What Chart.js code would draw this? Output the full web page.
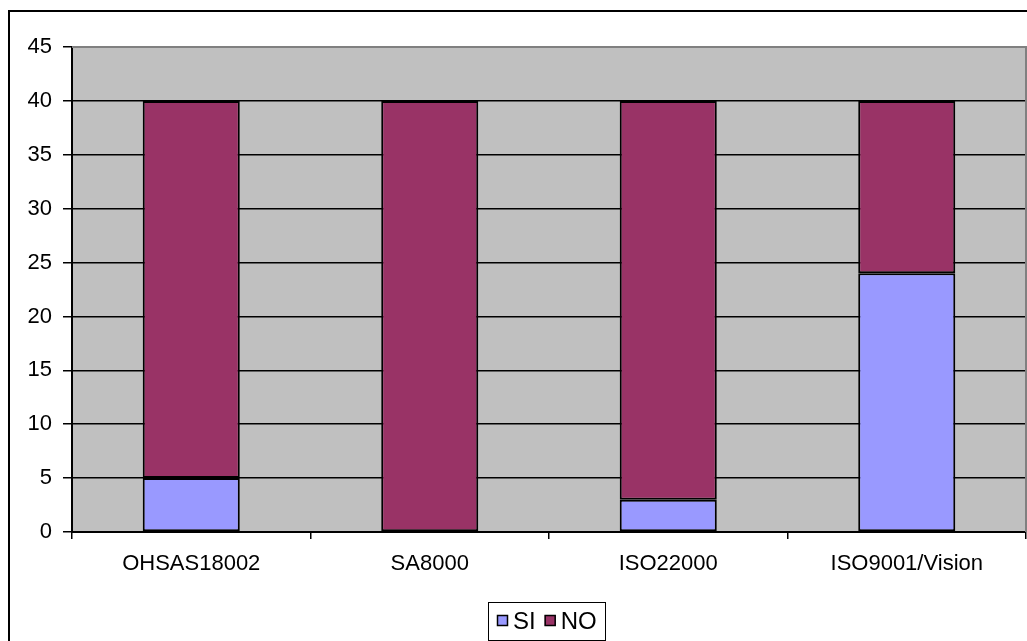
<!DOCTYPE html>
<html>
<head>
<meta charset="utf-8">
<script src="https://cdn.jsdelivr.net/npm/chart.js@4/dist/chart.umd.min.js"></script>
<style>
  html, body { margin: 0; padding: 0; background: #ffffff; }
  #wrap { width: 1027px; height: 641px; position: relative; overflow: hidden; }
  canvas { display: block; }
</style>
</head>
<body>
<div id="wrap"><canvas id="c" width="1027" height="641"></canvas></div>
<script>
// Certification categories and counts per answer
const categories = ['OHSAS18002', 'SA8000', 'ISO22000', 'ISO9001/Vision'];
const siValues = [5, 0, 3, 24];
const noValues = [35, 40, 37, 16];
const yTicks = [0, 5, 10, 15, 20, 25, 30, 35, 40, 45];

const FONT = "'Liberation Sans', Arial, sans-serif";

// Gray plot background, plot frame, outer frame and a boxed legend
const framePlugin = {
  id: 'frame',
  beforeDraw(chart) {
    const { ctx, chartArea: a } = chart;
    ctx.save();
    ctx.fillStyle = '#ffffff';
    ctx.fillRect(0, 0, chart.width, chart.height);
    ctx.fillStyle = '#c0c0c0';
    ctx.fillRect(a.left, a.top, a.right - a.left, a.bottom - a.top);
    ctx.restore();
  },
  afterDraw(chart) {
    const { ctx, chartArea: a } = chart;
    ctx.save();
    // plot frame (top and right)
    ctx.strokeStyle = '#808080';
    ctx.lineWidth = 2;
    ctx.beginPath();
    ctx.moveTo(a.left, a.top);
    ctx.lineTo(a.right, a.top);
    ctx.lineTo(a.right, a.bottom);
    ctx.stroke();
    // outer frame
    ctx.strokeStyle = '#000000';
    ctx.lineWidth = 2;
    ctx.beginPath();
    ctx.moveTo(9, chart.height + 2);
    ctx.lineTo(9, 11);
    ctx.lineTo(chart.width + 2, 11);
    ctx.stroke();
    // legend
    const lx = 488, ly = 602, lw = 117, lh = 38;
    ctx.fillStyle = '#ffffff';
    ctx.fillRect(lx, ly, lw, lh);
    ctx.strokeStyle = '#000000';
    ctx.lineWidth = 1;
    ctx.strokeRect(lx + 0.5, ly + 0.5, lw, lh);
    ctx.font = '24px ' + FONT;
    ctx.textBaseline = 'middle';
    ctx.textAlign = 'left';
    let x = lx + 9;
    const cy = ly + 19;
    chart.data.datasets.forEach(ds => {
      ctx.fillStyle = ds.backgroundColor;
      ctx.fillRect(x, cy - 6, 11, 11);
      ctx.strokeStyle = '#000000';
      ctx.lineWidth = 1.5;
      ctx.strokeRect(x + 0.5, cy - 5.5, 10, 10);
      ctx.fillStyle = '#000000';
      ctx.fillText(ds.label, x + 16, cy + 1);
      x += 16 + ctx.measureText(ds.label).width + 9;
    });
    ctx.restore();
  }
};

new Chart(document.getElementById('c'), {
  type: 'bar',
  data: {
    labels: categories,
    datasets: [
      {
        label: 'SI',
        data: siValues,
        backgroundColor: '#9999ff',
        borderColor: '#000000',
        borderWidth: 2,
        borderSkipped: false,
        barPercentage: 0.407,
        categoryPercentage: 1
      },
      {
        label: 'NO',
        data: noValues,
        backgroundColor: '#993366',
        borderColor: '#000000',
        borderWidth: 2,
        borderSkipped: false,
        barPercentage: 0.407,
        categoryPercentage: 1
      }
    ]
  },
  options: {
    responsive: false,
    animation: false,
    devicePixelRatio: 1,
    layout: { padding: { top: 47, right: 1, left: 0, bottom: 0 } },
    plugins: {
      legend: { display: false },
      tooltip: { enabled: false }
    },
    scales: {
      x: {
        stacked: true,
        grid: {
          offset: true,
          drawOnChartArea: false,
          drawTicks: true,
          tickLength: 7,
          color: '#000000',
          lineWidth: 1.5
        },
        border: { color: '#000000', width: 2 },
        ticks: {
          color: '#000000',
          font: { family: FONT, size: 22 },
          padding: 12,
          maxRotation: 0
        },
        afterFit(scale) { scale.height = 109; }
      },
      y: {
        stacked: true,
        min: 0,
        max: 45,
        afterBuildTicks(scale) { scale.ticks = yTicks.map(v => ({ value: v })); },
        grid: {
          color: '#000000',
          lineWidth: 1.5,
          tickLength: 9
        },
        border: { color: '#000000', width: 2 },
        ticks: {
          color: '#000000',
          font: { family: FONT, size: 22 },
          padding: 11
        },
        afterFit(scale) { scale.width = 72; }
      }
    }
  },
  plugins: [framePlugin]
});
</script>
</body>
</html>
